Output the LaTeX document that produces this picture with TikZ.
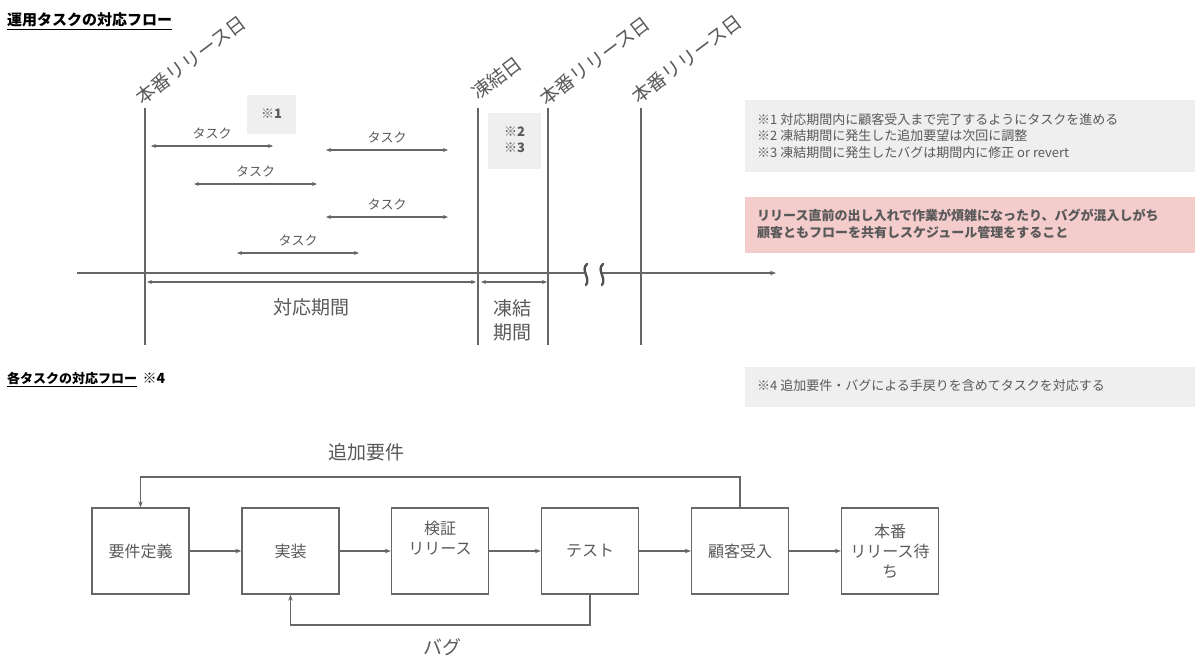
\documentclass[tikz,border=0pt]{standalone}
\usepackage{fontspec}
\setmainfont{Noto Sans CJK JP}
\usetikzlibrary{arrows.meta}
\definecolor{lc}{HTML}{666666}
\definecolor{tc}{HTML}{595959}
\definecolor{boxg}{HTML}{EFEFEF}
\definecolor{pinkb}{HTML}{F4CCCC}
\begin{document}
\begin{tikzpicture}[x=1pt,y=-1pt,
  ln/.style={draw=lc, line width=1.3pt},
  tk/.style={draw=lc, line width=1.2pt, {Stealth[length=5pt,width=4pt]}-{Stealth[length=5pt,width=4pt]}},
  fl/.style={draw=lc, line width=1.3pt, -{Stealth[length=6pt,width=4.5pt]}},
  lbl/.style={text=tc, font=\fontsize{13}{15}\selectfont, inner sep=0pt},
  big/.style={text=tc, font=\fontsize{19}{24}\selectfont, inner sep=0pt, align=center},
  rot/.style={text=tc, font=\fontsize{19}{22}\selectfont, rotate=37, inner sep=0pt},
  fbox/.style={draw=lc, line width=1.3pt, minimum width=97pt, minimum height=86pt, text=tc, font=\fontsize{16}{20}\selectfont, align=center, inner sep=0pt},
  notetext/.style={text=tc, font=\fontsize{13}{16.5}\selectfont, align=left, inner sep=0pt, anchor=west},
  ttl/.style={text=black, font=\bfseries, inner sep=0pt, anchor=west}
]
\useasboundingbox (0,0) rectangle (1200,662);

% titles
\node[ttl, font=\fontsize{15}{18}\selectfont\bfseries] (t1) at (7,20) {運用タスクの対応フロー};
\draw[black, line width=1.2pt] ([yshift=-2pt]t1.south west) -- ([yshift=-2pt]t1.south east);
\node[ttl, font=\fontsize{13}{16}\selectfont\bfseries] (t2) at (7,378) {各タスクの対応フロー};
\node[ttl, font=\fontsize{14}{16}\selectfont\bfseries, anchor=west] (t2b) at ([xshift=5pt]t2.east) {※4};
\draw[black, line width=1.2pt] ([yshift=-2pt]t2.south west) -- ([yshift=-2pt]t2.south east);

% rotated date labels
\node[rot] (d1) at (191,60) {本番リリース日};
\node[rot] (d2) at (497,78) {凍結日};
\node[rot] (d3) at (595,61) {本番リリース日};
\node[rot] (d4) at (687,59) {本番リリース日};

% small note boxes
\fill[boxg] (247,95) rectangle (296,134);
\node[lbl, font=\fontsize{13}{15}\selectfont\bfseries] (n1) at (271.5,114) {※1};
\fill[boxg] (488,113) rectangle (541,169);
\node[lbl, font=\fontsize{13}{16}\selectfont\bfseries, align=center] (n23) at (514.5,140) {※2\\※3};

% vertical lines
\foreach \x/\n in {145/v1,478/v2,548/v3,641/v4}{
  \coordinate (\n t) at (\x,108);
  \coordinate (\n b) at (\x,345);
  \draw[ln] (\n t) -- (\n b);
}

% task arrows
\foreach \a/\b/\y/\i in {151/273/146/1, 326/448/150/2, 194/317/184/3, 326/448/217/4, 237/359/253/5}{
  \coordinate (ta\i) at (\a,\y);
  \coordinate (tb\i) at (\b,\y);
  \draw[tk] (ta\i) -- (tb\i);
  \node[lbl] (tl\i) at ({(\a+\b)/2},{\y-13}) {タスク};
}

% axis
\coordinate (ax0) at (77,273);
\coordinate (ax1) at (584,273);
\coordinate (ax2) at (602,273);
\coordinate (ax3) at (776,273);
\draw[ln] (ax0) -- (ax1);
\draw[ln, -{Stealth[length=6pt,width=4.5pt]}] (ax2) -- (ax3);
\draw[draw=tc!90!black, line width=2.4pt, line cap=round] (587,264) .. controls (580,270) and (591,278) .. (586,285);
\draw[draw=tc!90!black, line width=2.4pt, line cap=round] (603,264) .. controls (596,270) and (607,278) .. (602,285);

% periods
\coordinate (p1a) at (147,282);
\coordinate (p1b) at (476,282);
\coordinate (p2a) at (481,282);
\coordinate (p2b) at (547,282);
\draw[tk, line width=1.3pt] (p1a) -- (p1b);
\draw[tk, line width=1.3pt] (p2a) -- (p2b);
\node[big] (per1) at (311,307) {対応期間};
\node[big] (per2) at (512,320) {凍結\\期間};

% right note boxes
\fill[boxg] (745,100) rectangle (1195,172);
\node[notetext] (nt1) at (757,136) {※1 対応期間内に顧客受入まで完了するようにタスクを進める\\※2 凍結期間に発生した追加要望は次回に調整\\※3 凍結期間に発生したバグは期間内に修正 or revert};
\fill[pinkb] (745,197) rectangle (1195,253);
\node[notetext, font=\fontsize{13}{16.5}\selectfont\bfseries] (nt2) at (757,224) {リリース直前の出し入れで作業が煩雑になったり、バグが混入しがち\\顧客ともフローを共有しスケジュール管理をすること};
\fill[boxg] (745,367) rectangle (1195,407);
\node[notetext] (nt3) at (757,386) {※4 追加要件・バグによる手戻りを含めてタスクを対応する};

% flow
\node[fbox] (b1) at (140.5,551) {要件定義};
\node[fbox] (b2) at (290.5,551) {実装};
\node[fbox] (b3) at (440,551) {検証\\リリース\\\strut};
\node[fbox] (b4) at (590,551) {テスト};
\node[fbox] (b5) at (740,551) {顧客受入};
\node[fbox] (b6) at (890,551) {本番\\リリース待\\ち};
\draw[fl] (b1) -- (b2);
\draw[fl] (b2) -- (b3);
\draw[fl] (b3) -- (b4);
\draw[fl] (b4) -- (b5);
\draw[fl] (b5) -- (b6);
\coordinate (topy) at (0,477);
\coordinate (boty) at (0,625);
\draw[fl] (b5.north) -- (b5.north |- topy) -| (b1.north);
\draw[fl] (b4.south) -- (b4.south |- boty) -| (b2.south);
\node[big] (lab1) at (366,452) {追加要件};
\node[big] (lab2) at (442,647) {バグ};
\end{tikzpicture}
\end{document}
